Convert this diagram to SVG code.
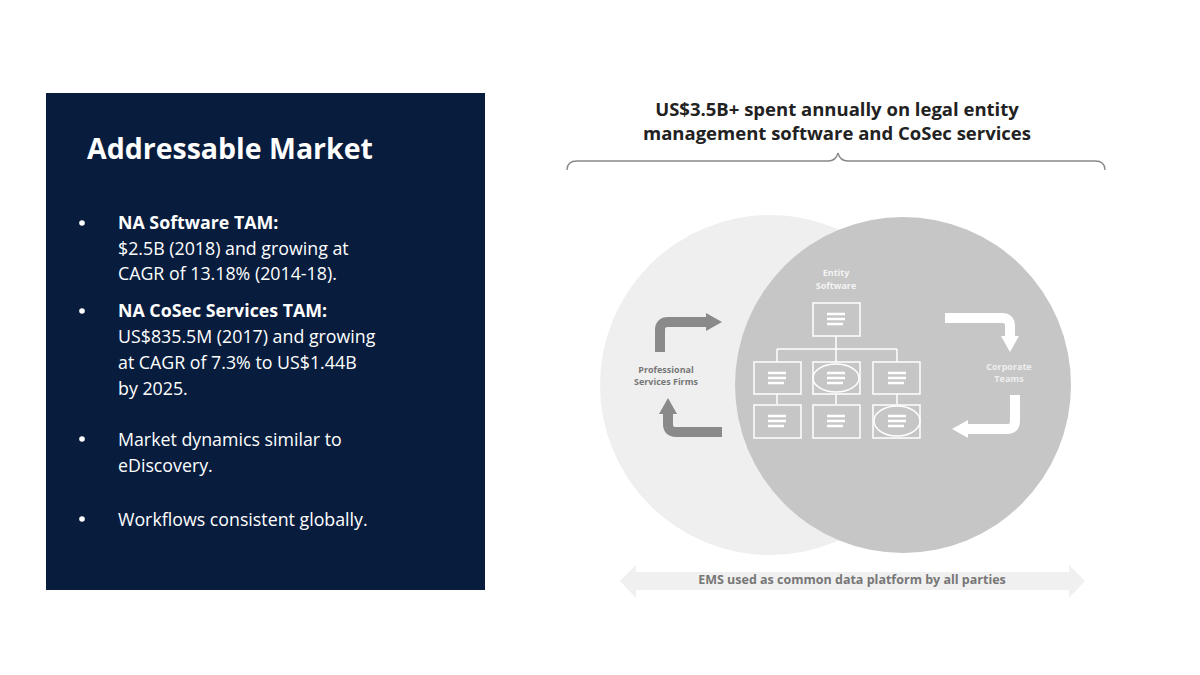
<svg xmlns="http://www.w3.org/2000/svg" width="1200" height="675" viewBox="0 0 1200 675">
<style>
.w{font-family:"Open Sans","Liberation Sans",sans-serif;fill:#fff}
.t{font-size:17.8px}
.b{font-weight:bold}
.box{fill:none;stroke:#fff;stroke-width:1.5}
.bar{stroke:#fff;stroke-width:2.5}
.ln{stroke:#fff;stroke-width:1.5;fill:none}
.lab{font-family:"Open Sans","Liberation Sans",sans-serif;font-weight:bold;font-size:9px;text-anchor:middle}
</style>
<defs>
<g id="lines"><line class="bar" x1="-9" y1="-5" x2="9" y2="-5"/><line class="bar" x1="-9" y1="0" x2="9" y2="0"/><line class="bar" x1="-9" y1="5" x2="7" y2="5"/></g>
</defs>
<rect width="1200" height="675" fill="#fff"/>
<g id="panel">
<rect x="46" y="93" width="439" height="497" fill="#081d3e"/>
<text class="w b" x="87" y="159" font-size="28.5">Addressable Market</text>
<g class="w t">
<circle cx="82" cy="223" r="2.8"/><circle cx="82" cy="311" r="2.8"/><circle cx="82" cy="439" r="2.8"/><circle cx="82" cy="519" r="2.8"/>
<text x="118" y="229" class="b">NA Software TAM:</text>
<text x="118" y="255">$2.5B (2018) and growing at</text>
<text x="118" y="280">CAGR of 13.18% (2014-18).</text>
<text x="118" y="317" class="b">NA CoSec Services TAM:</text>
<text x="118" y="343">US$835.5M (2017) and growing</text>
<text x="118" y="369">at CAGR of 7.3% to US$1.44B</text>
<text x="118" y="395">by 2025.</text>
<text x="118" y="446">Market dynamics similar to</text>
<text x="118" y="472">eDiscovery.</text>
<text x="118" y="526">Workflows consistent globally.</text>
</g>
</g>
<g id="heading" font-family="'Open Sans','Liberation Sans',sans-serif" font-weight="bold" font-size="18.5" fill="#222" text-anchor="middle">
<text x="837" y="116">US$3.5B+ spent annually on legal entity</text>
<text x="837" y="140">management software and CoSec services</text>
</g>
<g id="connectors">
<path d="M567 170 Q567 161 577 161 L828 161 Q836 161 838 153 Q840 161 848 161 L1095 161 Q1105 161 1105 170" fill="none" stroke="#888" stroke-width="1.3"/>
<path d="M620 581 L636 565 L636 572 L1069 572 L1069 565 L1085 581 L1069 598 L1069 590 L636 590 L636 598 Z" fill="#f0f0f0"/>
</g>
<g id="venn">
<circle cx="770" cy="385" r="170" fill="#efefef"/>
<circle cx="903" cy="385" r="168" fill="#c6c6c6"/>
</g>
<g id="psf">
<path d="M660 352 L660 330 Q660 322 668 322 L706 322" fill="none" stroke="#8a8a8a" stroke-width="10"/>
<path d="M706 313 L722 322 L706 331Z" fill="#8a8a8a"/>
<path d="M722 432 L676 432 Q668 432 668 424 L668 414" fill="none" stroke="#8a8a8a" stroke-width="10"/>
<path d="M659 414 L668 398 L677 414Z" fill="#8a8a8a"/>
<text class="lab" x="666" y="373" fill="#777">Professional</text>
<text class="lab" x="666" y="385" fill="#777">Services Firms</text>
</g>
<g id="corp">
<path d="M945 318 L1002 318 Q1010 318 1010 326 L1010 336" fill="none" stroke="#fff" stroke-width="10"/>
<path d="M1001 336 L1010 352 L1019 336Z" fill="#fff"/>
<path d="M1015 395 L1015 421 Q1015 429 1007 429 L968 429" fill="none" stroke="#fff" stroke-width="10"/>
<path d="M968 420 L952 429 L968 438Z" fill="#fff"/>
<text class="lab" x="1009" y="370" fill="#eee">Corporate</text>
<text class="lab" x="1009" y="382" fill="#eee">Teams</text>
</g>
<g id="entity">
<text class="lab" x="836" y="276" fill="#f4f4f4">Entity</text>
<text class="lab" x="836" y="289" fill="#f4f4f4">Software</text>
<path class="ln" d="M836 336 V349 M777 349 H897 M777 349 V362 M836 349 V362 M897 349 V362 M777 394 V404 M836 394 V404 M897 394 V404"/>
<rect class="box" x="813" y="303" width="47" height="33"/>
<rect class="box" x="754" y="362" width="47" height="32"/>
<rect class="box" x="813" y="362" width="47" height="32"/>
<rect class="box" x="873" y="362" width="47" height="32"/>
<rect class="box" x="754" y="405" width="47" height="33"/>
<rect class="box" x="813" y="405" width="47" height="33"/>
<rect class="box" x="873" y="405" width="47" height="33"/>
<ellipse class="box" cx="836" cy="378" rx="23" ry="14"/>
<ellipse class="box" cx="897" cy="421" rx="23" ry="15"/>
<use href="#lines" x="836" y="319"/>
<use href="#lines" x="777" y="378"/><use href="#lines" x="836" y="378"/><use href="#lines" x="897" y="378"/>
<use href="#lines" x="777" y="421"/><use href="#lines" x="836" y="421"/><use href="#lines" x="897" y="421"/>
</g>
<text x="852" y="584" font-family="'Open Sans','Liberation Sans',sans-serif" font-weight="bold" font-size="12.5" fill="#777" text-anchor="middle">EMS used as common data platform by all parties</text>
</svg>
